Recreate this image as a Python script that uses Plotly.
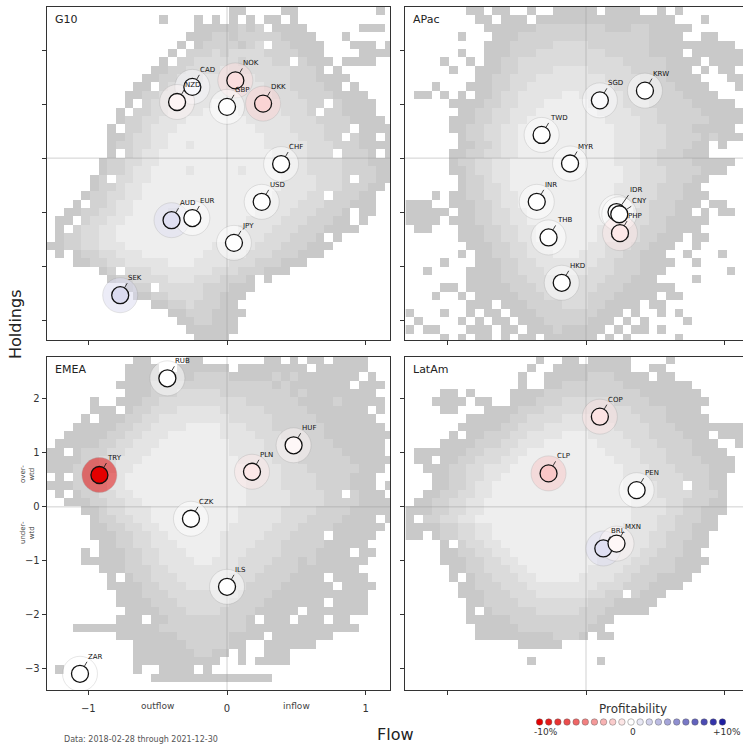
import plotly.graph_objects as go

FONT = "DejaVu Sans"

# ---------------- data ----------------
G10_CCY = ["CAD", "NZD", "NOK", "GBP", "DKK", "CHF", "USD", "AUD", "EUR", "JPY", "SEK"]
G10_FLOW = [-0.25, -0.36, 0.06, 0.0, 0.26, 0.39, 0.25, -0.40, -0.25, 0.05, -0.77]
G10_HOLD = [1.32, 1.04, 1.44, 0.95, 1.01, -0.11, -0.81, -1.15, -1.11, -1.57, -2.54]
G10_PROFIT = [0.3, -0.4, -1.3, 0.0, -1.7, 0.0, 0.0, 1.4, 0.0, 0.0, 1.6]

APAC_CCY = ["KRW", "SGD", "TWD", "MYR", "INR", "IDR", "CNY", "PHP", "THB", "HKD"]
APAC_FLOW = [0.425, 0.10, -0.32, -0.115, -0.355, 0.22, 0.24, 0.245, -0.27, -0.175]
APAC_HOLD = [1.25, 1.07, 0.43, -0.10, -0.81, -1.00, -1.04, -1.39, -1.47, -2.31]
APAC_PROFIT = [0.0, 0.2, 0.0, 0.0, 0.0, 0.0, 0.0, -0.9, 0.0, 0.0]

EMEA_CCY = ["RUB", "TRY", "HUF", "PLN", "CZK", "ILS", "ZAR"]
EMEA_FLOW = [-0.43, -0.92, 0.48, 0.18, -0.26, 0.0, -1.06]
EMEA_HOLD = [2.38, 0.59, 1.14, 0.65, -0.22, -1.48, -3.09]
EMEA_PROFIT = [0.0, -10.0, -0.3, -0.9, 0.0, 0.0, 0.0]

LATAM_CCY = ["COP", "CLP", "PEN", "BRL", "MXN"]
LATAM_FLOW = [0.10, -0.27, 0.365, 0.125, 0.22]
LATAM_HOLD = [1.67, 0.62, 0.31, -0.77, -0.68]
LATAM_PROFIT = [-1.1, -2.2, 0.0, 1.4, -0.3]

PROFIT_LEGEND = [-10, -9, -8, -7, -6, -5, -4, -3, -2, -1, 0, 1, 2, 3, 4, 5, 6, 7, 8, 9, 10]

X_TICKS = [-1, 0, 1]
X_TICK_TEXT = ["\u22121", "0", "1"]
Y_TICKS = [-3, -2, -1, 0, 1, 2]

# 2-D histogram of daily (flow, holdings) observations: density level per bin
# (0 = no observations, 1 = few ... 5 = many); rows from top (high holdings) down
G10_DENSITY = [
    "0000000000" "0000000000" "0110000110" "0000000010",
    "0000000000" "0001000101" "0101011010" "0000000000",
    "0000000000" "0000000111" "1121201111" "0000001110",
    "0000000000" "0000001112" "2122222111" "1000100000",
    "0000000000" "0000010122" "2212302211" "1100011101",
    "0000000000" "0000102223" "2333322221" "1100001111",
    "0000000000" "0001022333" "3323332202" "1110111100",
    "0000000000" "0011223333" "4333333322" "2101000000",
    "0000000000" "0112233344" "4444333322" "2111100000",
    "0000000000" "1102333444" "4444433322" "2211010000",
    "0000000001" "1223334444" "4444443332" "2221111000",
    "0000000001" "0233444445" "5444444333" "2202111100",
    "0000000010" "2233444455" "5544444333" "2022111100",
    "0000000012" "2334445555" "5554444433" "3222211110",
    "0000000102" "2344455555" "5555444433" "3322201111",
    "0000000112" "3344555555" "5555544443" "3322021101",
    "0000000122" "3344554555" "5555544444" "3332221111",
    "0000000102" "3445555555" "5555554444" "3330222101",
    "0000001223" "3445555555" "5555554444" "3333222111",
    "0000001223" "4455554555" "5545555444" "3333222211",
    "0000012033" "4455555555" "5555555444" "4333202211",
    "0000012234" "4555555555" "5555555444" "4333222110",
    "0000122334" "4555555555" "5555554444" "3302221100",
    "0001022344" "5555555555" "5555544443" "3322211100",
    "0011223344" "5555455555" "5555444433" "3222101100",
    "0110233445" "5555555555" "5554444333" "2221101000",
    "0102334455" "5555555555" "5544443332" "2211110000",
    "0122334455" "5555555555" "5444433322" "2101000000",
    "1122334445" "5555555554" "4444333222" "1110000000",
    "0101223344" "4555555544" "4443332221" "1100000000",
    "0001122334" "4444555444" "4333222111" "0000000000",
    "0000001203" "3344444443" "3322211100" "0000000000",
    "0000000122" "3333444333" "2221010000" "0000000000",
    "0000000001" "2203333322" "2111000000" "0000000000",
    "0000000000" "1122333322" "1110000000" "0000000000",
    "0000000000" "0011223222" "1100000000" "0000000000",
    "0000000000" "0000112221" "1110000000" "0000000000",
    "0000000000" "0000011221" "1100000000" "0000000000",
    "0000000000" "0000001111" "1100000000" "0000000000",
    "0000000000" "0000000111" "1000000000" "0000000000",
]

APAC_DENSITY = [
    "0000000110" "1100100111" "1101111001" "0100000000",
    "0000000011" "0111011111" "1111111111" "1000100000",
    "0000000001" "1111122222" "2221112211" "1110000000",
    "0000001000" "1112222222" "2222222211" "1100110001",
    "0000000001" "1122222333" "3222222211" "1111111100",
    "0000001001" "1122233333" "3332222211" "1101111110",
    "0000100101" "1223333333" "3333322222" "1111011111",
    "0000010011" "1223333444" "4333332222" "1110101100",
    "0000000011" "2233344444" "4443333222" "1111000110",
    "0001000111" "2233444444" "4444333222" "2111100010",
    "0110101011" "2334444455" "4444433322" "2211110000",
    "0000011112" "2334445555" "5444433322" "2221111100",
    "0000001122" "3344455555" "5544443332" "2222111111",
    "0000011122" "3344555555" "5554444332" "2222211110",
    "0000011223" "3445555555" "5555444333" "2221111100",
    "0000001223" "3445555555" "5555444333" "2222121111",
    "0000001122" "3445555555" "5555444333" "2221101000",
    "0000011223" "3445555555" "5555444332" "2211100000",
    "0000012233" "4455555555" "5555444332" "2221111100",
    "0000011233" "4455555555" "5555544333" "2222111000",
    "0000001223" "4455555555" "5555544333" "2221100000",
    "0000001223" "3455555555" "5555444332" "2211000000",
    "0001011223" "3445555555" "5555444332" "2211100000",
    "1110011122" "3445555555" "5555444322" "2111011000",
    "1111101122" "3344555555" "5554443322" "2110101100",
    "1111011122" "3344555555" "5554443322" "1111100000",
    "0110001112" "2334455555" "5544433222" "1111000000",
    "0000001112" "2334455555" "5544433221" "1101100000",
    "0000000111" "2233445555" "5443332211" "1001000000",
    "0000001011" "2233444555" "4443322111" "0010001000",
    "0000100011" "1223344444" "4433222111" "1001000000",
    "0010000111" "1223334444" "4333222111" "0000000100",
    "0000000111" "1222333333" "3332221110" "0001000000",
    "0000110111" "1122233333" "3322211111" "1000000000",
    "0001001011" "1112223333" "3222111110" "1100000000",
    "0000000111" "0111222233" "3221111011" "0000000000",
    "1000100101" "1011122222" "2211101001" "0100000000",
    "0100001010" "1101112222" "2111010100" "0010000000",
    "1011000111" "0110111211" "1110101101" "0000000000",
    "0000101011" "0101101111" "1101010000" "0100000000",
]

EMEA_DENSITY = [
    "0000000000" "1100001100" "0000011010" "1101111000",
    "0000000001" "1110011111" "1011111111" "0111111000",
    "0000000001" "1111111222" "2111112121" "1111110100",
    "0000000011" "1122222222" "2222221211" "1111101110",
    "0000000001" "1122233333" "2222222212" "1111111100",
    "0000010011" "1223333333" "3332222221" "1112111110",
    "0000011101" "2233344444" "3333322222" "1111111010",
    "0000101112" "2334444444" "4333332222" "2111111100",
    "0001111122" "3344445555" "4443332222" "2211111110",
    "0011111223" "3444555555" "4444333222" "2211111111",
    "0111112233" "4445555555" "5444433322" "2221111110",
    "1101222334" "4455555555" "5444433332" "2222111110",
    "1111223344" "4555555555" "5544443332" "2222211111",
    "1112223344" "5555555555" "5554444333" "2222221110",
    "0102233445" "5555555555" "5554444333" "3222211100",
    "1112233445" "5555555555" "5554444333" "3222211101",
    "0101223344" "5555555555" "5554444433" "3322021110",
    "0011122334" "4555555555" "5554444433" "3322221111",
    "0000112334" "4455555555" "5544444333" "3222211111",
    "0000012233" "4455555555" "5544444333" "2222111101",
    "0000011223" "3445555555" "5444443332" "2221111110",
    "0000011122" "3344555555" "4444433322" "2201111100",
    "0000001122" "3344455555" "4444333222" "2211111000",
    "0000101112" "2334445555" "4443333222" "2111101100",
    "0000111112" "2334444554" "4433332221" "2111111000",
    "0000001112" "2233444444" "4433322221" "1111110000",
    "0000000101" "2233344444" "4333222211" "1101111000",
    "0000000111" "1223334444" "3332222111" "1110111100",
    "0000000011" "1222333333" "3322221111" "1111111000",
    "0000000011" "1122233333" "3222211111" "1101111000",
    "0000000001" "1112223333" "2222111110" "1111111000",
    "0000000011" "1011222222" "2221011101" "1101100000",
    "0001111111" "1112222222" "2221111111" "1111110000",
    "0000000011" "1111122222" "2111101111" "1110000000",
    "0000000000" "1111112222" "2110011111" "1000000000",
    "0000000000" "1111111221" "1010011100" "0000000000",
    "0000000000" "1111111111" "0010111100" "0000000000",
    "0100000000" "1001111010" "0000000000" "0000000000",
    "0000000000" "0011111111" "1111110000" "0000000000",
    "0000000000" "0000000000" "0000000000" "0000000000",
]

LATAM_DENSITY = [
    "0000000000" "0000010011" "0111110000" "1000000000",
    "0000000000" "0000100111" "1111110011" "0000000000",
    "0000000000" "0001001111" "1222111101" "1000000000",
    "0000000000" "0001001122" "2222211111" "1110000000",
    "0000110100" "0011112222" "2222222111" "1111000000",
    "0001111011" "0011122233" "3333222211" "1111100000",
    "0000110001" "1112223333" "3333332222" "1111000000",
    "0000000111" "1122333344" "4443333222" "1111100000",
    "0000001111" "1223334444" "4444333322" "2111111111",
    "0000010112" "2233444455" "5444433322" "2211101111",
    "0000111122" "2334445555" "5544443332" "2221110011",
    "0111111223" "3344555555" "5554444333" "2221111000",
    "0110112233" "3445555555" "5555444333" "2222111100",
    "0011122334" "4455555555" "5555544433" "3222211100",
    "0001122334" "4555555555" "5555544433" "3322211000",
    "0001122344" "5555555555" "5555544443" "3302211000",
    "0011223344" "5555555555" "5555554443" "3332221000",
    "0112233445" "5555555555" "5555554444" "3322211000",
    "1112233445" "5555555555" "5555554444" "3322111000",
    "1022334455" "5555555555" "5555554443" "3222110000",
    "1111223344" "5555555555" "5555544443" "3221110000",
    "1101223344" "5555555555" "5555544433" "2221100000",
    "0000102334" "4555555555" "5555444433" "2211100000",
    "0000112233" "4455555555" "5554444332" "2211000000",
    "0000111223" "3445555555" "5544443322" "2111100000",
    "0000011223" "3344555555" "5444433222" "2111000000",
    "0000010122" "3334455555" "4444332221" "1110000000",
    "0000001122" "2333444444" "4433322211" "1100000000",
    "0000001112" "2233344444" "4332202111" "0000000000",
    "0000000112" "2223333333" "3222111110" "0000000000",
    "0000000101" "2222233333" "2221111100" "0000000000",
    "0000000111" "1122222222" "2211000000" "0000000000",
    "0000000011" "1112222222" "2110000000" "0000000000",
    "0000000011" "1111111222" "1011000000" "0000000000",
    "0000000000" "0001111100" "0000000000" "0000000000",
    "0000000000" "0000000000" "0000000000" "0000000000",
    "0000000000" "0000100000" "0010000000" "0000000000",
    "0000000000" "0000000000" "0000000000" "0000000000",
    "0000000000" "0000000000" "0000000000" "0000000000",
    "0000000000" "0000000000" "0000000000" "0000000000",
]

# histogram bin geometry (data units)
X_BIN_START = -1.30
X_BIN_W = 0.0625
Y_BIN_TOP = 2.80
Y_BIN_H = 0.155

# ---------------- styling ----------------
W, H = 743, 749
HEAT_SCALE = [
    [0.0, "#c9c9c9"], [0.2, "#c9c9c9"],
    [0.2, "#d2d2d2"], [0.4, "#d2d2d2"],
    [0.4, "#dbdbdb"], [0.6, "#dbdbdb"],
    [0.6, "#e4e4e4"], [0.8, "#e4e4e4"],
    [0.8, "#eeeeee"], [1.0, "#eeeeee"],
]
PROFIT_SCALE = [[0.0, "rgb(228,0,0)"], [0.5, "rgb(255,255,255)"], [1.0, "rgb(30,30,160)"]]

# label offsets (pixels) for crowded labels
LABEL_OFFSET = {"IDR": (12, -17), "CNY": (12, -8)}


def px_x(p):
    return p / W


def px_y(p):
    return 1 - p / H


def paper_text(text, x, y, size, color="#222", angle=0, xanchor="center"):
    return dict(x=px_x(x), y=px_y(y), xref="paper", yref="paper", text=text,
                showarrow=False, xanchor=xanchor, yanchor="middle", textangle=angle,
                font=dict(size=size, color=color, family=FONT))


LEFT_DOM = [px_x(46.7), px_x(390)]
RIGHT_DOM = [px_x(405), 1.0]
TOP_DOM = [px_y(340), px_y(7)]
BOT_DOM = [px_y(690), px_y(356.7)]

LEFT_XR = [-1.30, 1.175]
RIGHT_XR = [-1.305, 1.132]
TOP_YR = [-3.37, 2.80]
BOT_YR = [-3.39, 2.78]

panels = [
    ("G10", "", LEFT_DOM, TOP_DOM, LEFT_XR, TOP_YR, True, False,
     G10_DENSITY, G10_CCY, G10_FLOW, G10_HOLD, G10_PROFIT),
    ("APac", "2", RIGHT_DOM, TOP_DOM, RIGHT_XR, TOP_YR, False, False,
     APAC_DENSITY, APAC_CCY, APAC_FLOW, APAC_HOLD, APAC_PROFIT),
    ("EMEA", "3", LEFT_DOM, BOT_DOM, LEFT_XR, BOT_YR, True, True,
     EMEA_DENSITY, EMEA_CCY, EMEA_FLOW, EMEA_HOLD, EMEA_PROFIT),
    ("LatAm", "4", RIGHT_DOM, BOT_DOM, RIGHT_XR, BOT_YR, False, False,
     LATAM_DENSITY, LATAM_CCY, LATAM_FLOW, LATAM_HOLD, LATAM_PROFIT),
]

fig = go.Figure()
layout = dict(
    width=W, height=H, margin=dict(l=0, r=0, t=0, b=0),
    paper_bgcolor="white", plot_bgcolor="white", showlegend=False,
    font=dict(family=FONT, color="#222"),
)
annotations = []

for (name, sfx, xdom, ydom, xr, yr, right_line, labels,
     dens, ccy, flow, hold, prof) in panels:
    xa, ya = "x" + sfx, "y" + sfx
    z = [[(int(ch) if ch != "0" else None) for ch in row] for row in dens[::-1]]
    nrows = len(dens)
    fig.add_trace(go.Heatmap(
        z=z, x0=X_BIN_START + X_BIN_W / 2, dx=X_BIN_W,
        y0=Y_BIN_TOP - nrows * Y_BIN_H + Y_BIN_H / 2, dy=Y_BIN_H,
        colorscale=HEAT_SCALE, zmin=0.5, zmax=5.5, showscale=False,
        hoverinfo="skip", xaxis=xa, yaxis=ya,
    ))
    # zero reference lines
    fig.add_trace(go.Scatter(x=[0, 0], y=yr, mode="lines",
                             line=dict(color="rgba(150,150,150,0.55)", width=0.8),
                             hoverinfo="skip", xaxis=xa, yaxis=ya))
    fig.add_trace(go.Scatter(x=xr, y=[0, 0], mode="lines",
                             line=dict(color="rgba(150,150,150,0.55)", width=0.8),
                             hoverinfo="skip", xaxis=xa, yaxis=ya))
    # halos
    fig.add_trace(go.Scatter(
        x=flow, y=hold, mode="markers", hoverinfo="skip", xaxis=xa, yaxis=ya,
        marker=dict(size=35, color=prof, colorscale=PROFIT_SCALE, cmin=-10, cmax=10,
                    opacity=0.5, line=dict(color="rgba(120,120,120,0.6)", width=0.6)),
    ))
    # currency circles
    fig.add_trace(go.Scatter(
        x=flow, y=hold, mode="markers", xaxis=xa, yaxis=ya, text=ccy,
        hovertemplate="%{text}<br>flow %{x}<br>holdings %{y}<extra></extra>",
        marker=dict(size=17, color=prof, colorscale=PROFIT_SCALE, cmin=-10, cmax=10,
                    line=dict(color="#111", width=1.3)),
    ))
    for c, fx, hy in zip(ccy, flow, hold):
        ox, oy = LABEL_OFFSET.get(c, (7, -12))
        annotations.append(dict(
            x=fx, y=hy, xref=xa, yref=ya, text=c, showarrow=True,
            ax=ox, ay=oy, axref="pixel", ayref="pixel",
            xanchor="left", yanchor="bottom", arrowhead=0, arrowwidth=0.8,
            arrowcolor="#111", standoff=8.5, borderpad=0,
            font=dict(size=7, color="#111", family=FONT),
        ))
    # panel title
    annotations.append(dict(
        x=xr[0], y=yr[1], xref=xa, yref=ya, text=name, showarrow=False,
        xanchor="left", yanchor="top", xshift=6, yshift=-4,
        font=dict(size=11, color="#222", family=FONT),
    ))
    axis_common = dict(showgrid=False, zeroline=False, showline=True,
                       linecolor="#333", linewidth=1, ticks="outside",
                       ticklen=4, tickwidth=1, tickcolor="#333",
                       tickfont=dict(size=10, color="#333", family=FONT))
    layout["xaxis" + sfx] = dict(
        axis_common, domain=xdom, range=xr, anchor=ya, mirror=True,
        tickvals=X_TICKS, ticktext=X_TICK_TEXT, showticklabels=labels,
        ticklabelstandoff=5)
    layout["yaxis" + sfx] = dict(
        axis_common, domain=ydom, range=yr, anchor=xa, mirror=right_line,
        tickvals=Y_TICKS, showticklabels=labels)

# flow direction labels on EMEA x axis
for txt, xv in [("outflow", -0.5), ("inflow", 0.5)]:
    annotations.append(dict(x=xv, y=px_y(706), xref="x3", yref="paper",
                            xanchor="center", yanchor="middle",
                            text=txt, showarrow=False,
                            font=dict(size=9, color="#444", family=FONT)))

# holdings side labels
annotations.append(paper_text("over-<br>wtd", 27, 474, 7, "#444", -90))
annotations.append(paper_text("under-<br>wtd", 27, 533, 7, "#444", -90))

# axis titles and source note
annotations.append(paper_text("Holdings", 15, 324, 16, "#222", -90))
annotations.append(paper_text("Flow", 395, 734, 16, "#222"))
annotations.append(paper_text("Data: 2018-02-28 through 2021-12-30", 62, 739, 8,
                              "#555", 0, "left"))

# profitability legend
fig.add_trace(go.Scatter(
    x=PROFIT_LEGEND, y=[0] * len(PROFIT_LEGEND), mode="markers",
    xaxis="x5", yaxis="y5", hoverinfo="skip",
    marker=dict(size=6.5, color=PROFIT_LEGEND, colorscale=PROFIT_SCALE,
                cmin=-10, cmax=10, line=dict(color="rgba(90,90,90,0.7)", width=0.6)),
))
layout["xaxis5"] = dict(domain=[px_x(535), px_x(727)], range=[-10.5, 10.5],
                        anchor="y5", visible=False, fixedrange=True)
layout["yaxis5"] = dict(domain=[px_y(727), px_y(717)], range=[-1, 1],
                        anchor="x5", visible=False, fixedrange=True)
annotations.append(paper_text("Profitability", 633, 709, 12, "#333"))
for txt, xp in [("-10%", 546), ("0", 633), ("+10%", 727)]:
    annotations.append(paper_text(txt, xp, 732, 9, "#333"))

layout["annotations"] = annotations
fig.update_layout(layout)
fig.write_html(
    "out.html",
    config={"displayModeBar": False},
    post_script="document.body.style.margin='0';document.body.style.overflow='hidden';",
)
